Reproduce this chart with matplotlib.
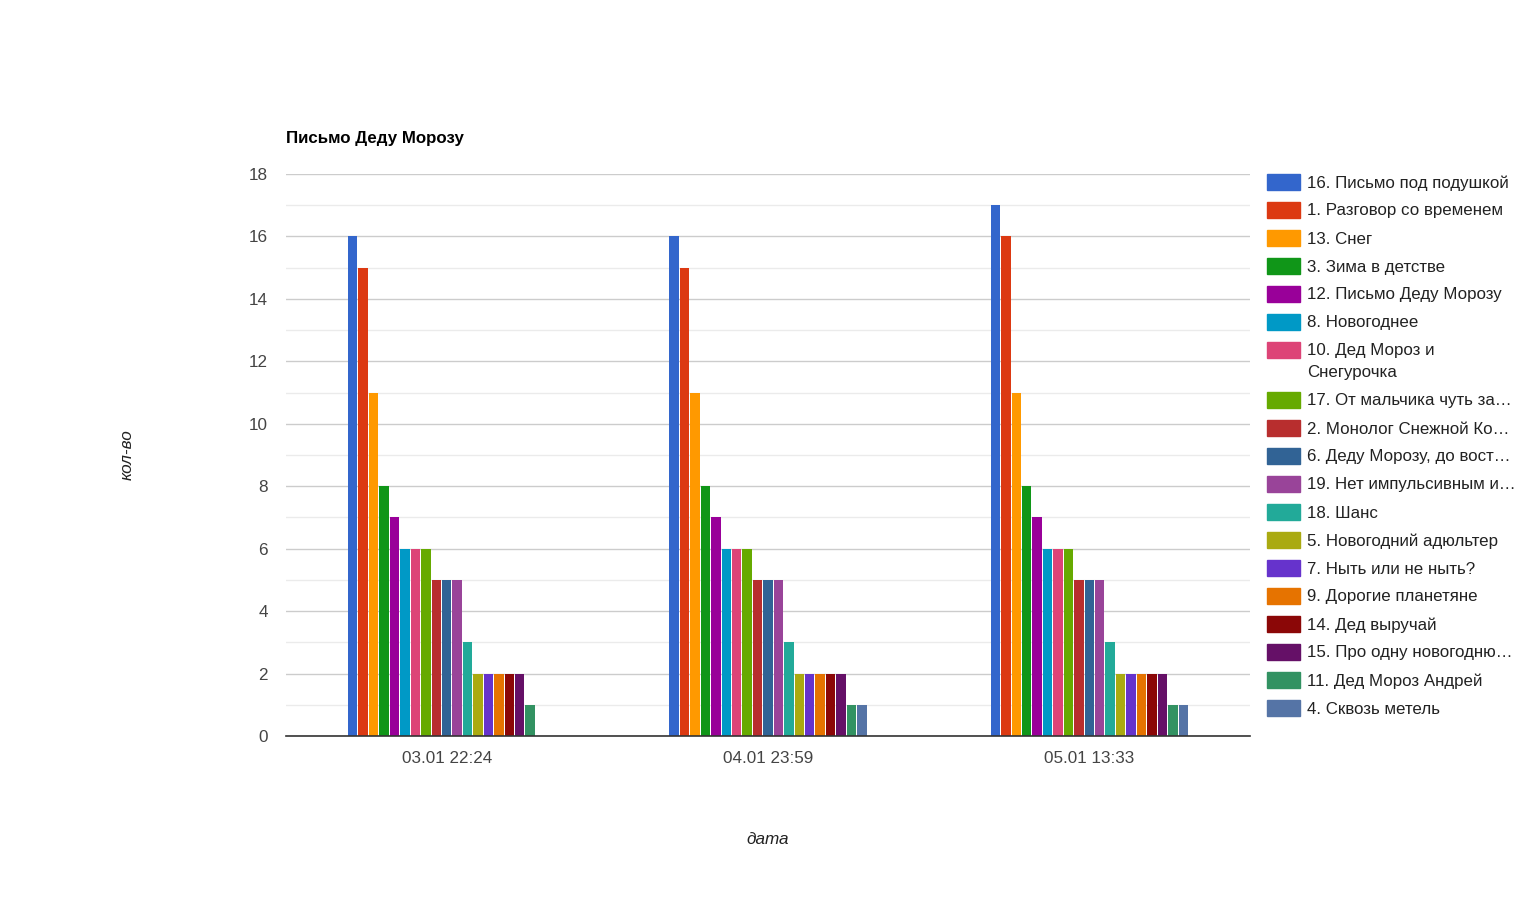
import matplotlib
matplotlib.use("Agg")
import matplotlib.pyplot as plt
from matplotlib.patches import Rectangle
import numpy as np

plt.rcParams['font.family'] = ['Liberation Sans', 'DejaVu Sans']

categories = ["03.01 22:24", "04.01 23:59", "05.01 13:33"]
series_names = [
    "16. Письмо под подушкой",
    "1. Разговор со временем",
    "13. Снег",
    "3. Зима в детстве",
    "12. Письмо Деду Морозу",
    "8. Новогоднее",
    "10. Дед Мороз и\nСнегурочка",
    "17. От мальчика чуть за…",
    "2. Монолог Снежной Ко…",
    "6. Деду Морозу, до вост…",
    "19. Нет импульсивным и…",
    "18. Шанс",
    "5. Новогодний адюльтер",
    "7. Ныть или не ныть?",
    "9. Дорогие планетяне",
    "14. Дед выручай",
    "15. Про одну новогодню…",
    "11. Дед Мороз Андрей",
    "4. Сквозь метель",
]
values_d1 = [16, 15, 11, 8, 7, 6, 6, 6, 5, 5, 5, 3, 2, 2, 2, 2, 2, 1, 0]
values_d2 = [16, 15, 11, 8, 7, 6, 6, 6, 5, 5, 5, 3, 2, 2, 2, 2, 2, 1, 1]
values_d3 = [17, 16, 11, 8, 7, 6, 6, 6, 5, 5, 5, 3, 2, 2, 2, 2, 2, 1, 1]
colors = ["#3366cc", "#dc3912", "#ff9900", "#109618", "#990099", "#0099c6",
          "#dd4477", "#66aa00", "#b82e2e", "#316395", "#994499", "#22aa99",
          "#aaaa11", "#6633cc", "#e67300", "#8b0707", "#651067", "#329262",
          "#5574a6"]
title = "Письмо Деду Морозу"
x_label = "дата"
y_label = "кол-во"

W, H = 1535, 911
fig = plt.figure(figsize=(W / 100, H / 100), dpi=100)
ax = fig.add_axes([286 / W, (H - 736) / H, (1250 - 286) / W, (736 - 174) / H])

data = np.array([values_d1, values_d2, values_d3])
n = len(series_names)
group_w = 0.617
slot = group_w / n
xc = np.arange(len(categories))
for i in range(n):
    offs = -group_w / 2 + slot * (i + 0.5)
    ax.bar(xc + offs, data[:, i], width=slot - 1.0 / 321, color=colors[i],
           zorder=3, linewidth=0)

ax.set_xlim(-0.5, 2.5)
ax.set_ylim(0, 18)
ax.set_yticks(np.arange(0, 19, 2))
ax.set_yticks(np.arange(1, 18, 2), minor=True)
ax.grid(True, axis='y', which='major', color='#cccccc', linewidth=1, zorder=0)
ax.grid(True, axis='y', which='minor', color='#ebebeb', linewidth=1, zorder=0)
ax.set_xticks(xc)
ax.set_xticklabels(categories)
for s in ['top', 'right', 'left']:
    ax.spines[s].set_visible(False)
ax.spines['bottom'].set_color('#333333')
ax.spines['bottom'].set_linewidth(1.2)
ax.spines['bottom'].set_zorder(4)
ax.tick_params(axis='both', which='both', length=0, labelsize=12.3, colors='#444444')
ax.tick_params(axis='x', pad=11)
ax.tick_params(axis='y', pad=13)

fig.text(286 / W, 1 - 139 / H, title, fontsize=12.2, fontweight='bold',
         color='#000000', ha='left', va='center')
fig.text(768 / W, 1 - 840 / H, x_label, fontsize=12.3, style='italic',
         color='#222222', ha='center', va='center')
fig.text(127 / W, 1 - 455 / H, y_label, fontsize=12.3, style='italic',
         color='#222222', ha='center', va='center', rotation=90)

# legend
y = 182
for i, name in enumerate(series_names):
    fig.patches.append(Rectangle((1267 / W, 1 - (y + 8) / H), 33 / W, 16 / H,
                                 transform=fig.transFigure, color=colors[i]))
    lines = name.split("\n")
    for j, line in enumerate(lines):
        fig.text(1307 / W, 1 - (y + 1 + 22 * j) / H, line, fontsize=12.2,
                 color='#222222', ha='left', va='center')
    y += 28 + 22 * (len(lines) - 1)

fig.savefig("out.png", dpi=100)
